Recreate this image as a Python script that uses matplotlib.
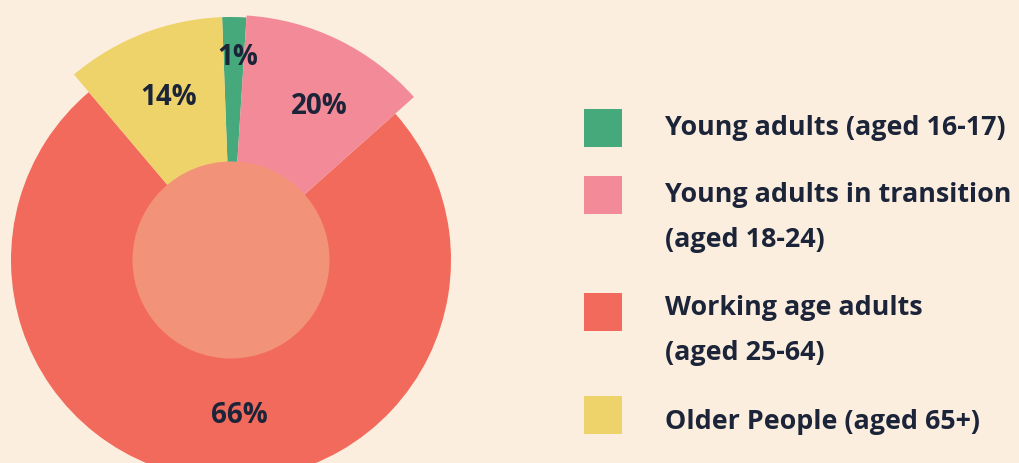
import numpy as np
import matplotlib.pyplot as plt
from matplotlib.patches import Circle, Rectangle

plt.rcParams['font.family'] = ['Open Sans', 'DejaVu Sans']

W, H = 1019, 463
BG = '#FCEEDE'
INK = '#1B2438'

groups = ['Young adults (aged 16-17)',
          'Young adults in transition\n(aged 18-24)',
          'Working age adults\n(aged 25-64)',
          'Older People (aged 65+)']
pct_labels = ['1%', '20%', '66%', '14%']
# angular share of each wedge as it is drawn in the picture
shares = [1.6, 12.4, 75.4, 10.6]
colors = ['#46A97B', '#F28A98', '#F26A5B', '#EED36B']

# layout (pixels)
cx, cy = 231, H - 260
radii = [243, 245, 220, 243]
inner_r = 98.5
lab_r = [203, 177, 156, 174]
lab_nudge = [-1, -4, 7, 0]   # degrees

fig = plt.figure(figsize=(W / 100, H / 100), dpi=100, facecolor=BG)
ax = fig.add_axes([0, 0, 1, 1])
ax.set_facecolor(BG)

wedges, _ = ax.pie(shares, colors=colors, startangle=92.1, counterclock=False,
                   center=(cx, cy), radius=1, frame=True,
                   wedgeprops=dict(linewidth=0))
for w, r in zip(wedges, radii):
    w.set_radius(r)
# red slice drawn first so the larger neighbours sit on top
wedges[2].set_zorder(1)
for i in (0, 1, 3):
    wedges[i].set_zorder(2)

ax.add_patch(Circle((cx, cy), inner_r, color='#F29379', lw=0, zorder=3))

for w, txt, r, nd in zip(wedges, pct_labels, lab_r, lab_nudge):
    mid = np.deg2rad((w.theta1 + w.theta2) / 2 + nd)
    ax.text(cx + r * np.cos(mid), cy + r * np.sin(mid), txt, ha='center',
            va='center', fontsize=20, fontweight='bold', color=INK, zorder=4)

# legend
box_y = [128, 195, 312, 415]
text_lines = [[128], [195, 240], [308, 353], [422]]
for g, c, by, ly in zip(groups, colors, box_y, text_lines):
    ax.add_patch(Rectangle((584, H - by - 19), 38, 38, color=c, lw=0))
    for part, y in zip(g.split('\n'), ly):
        ax.text(665, H - y, part, ha='left', va='center', fontsize=19.4,
                fontweight='bold', color=INK)

ax.set_xlim(0, W)
ax.set_ylim(0, H)
ax.set_aspect('auto')
ax.axis('off')

fig.savefig('out.png', dpi=100, facecolor=BG)
